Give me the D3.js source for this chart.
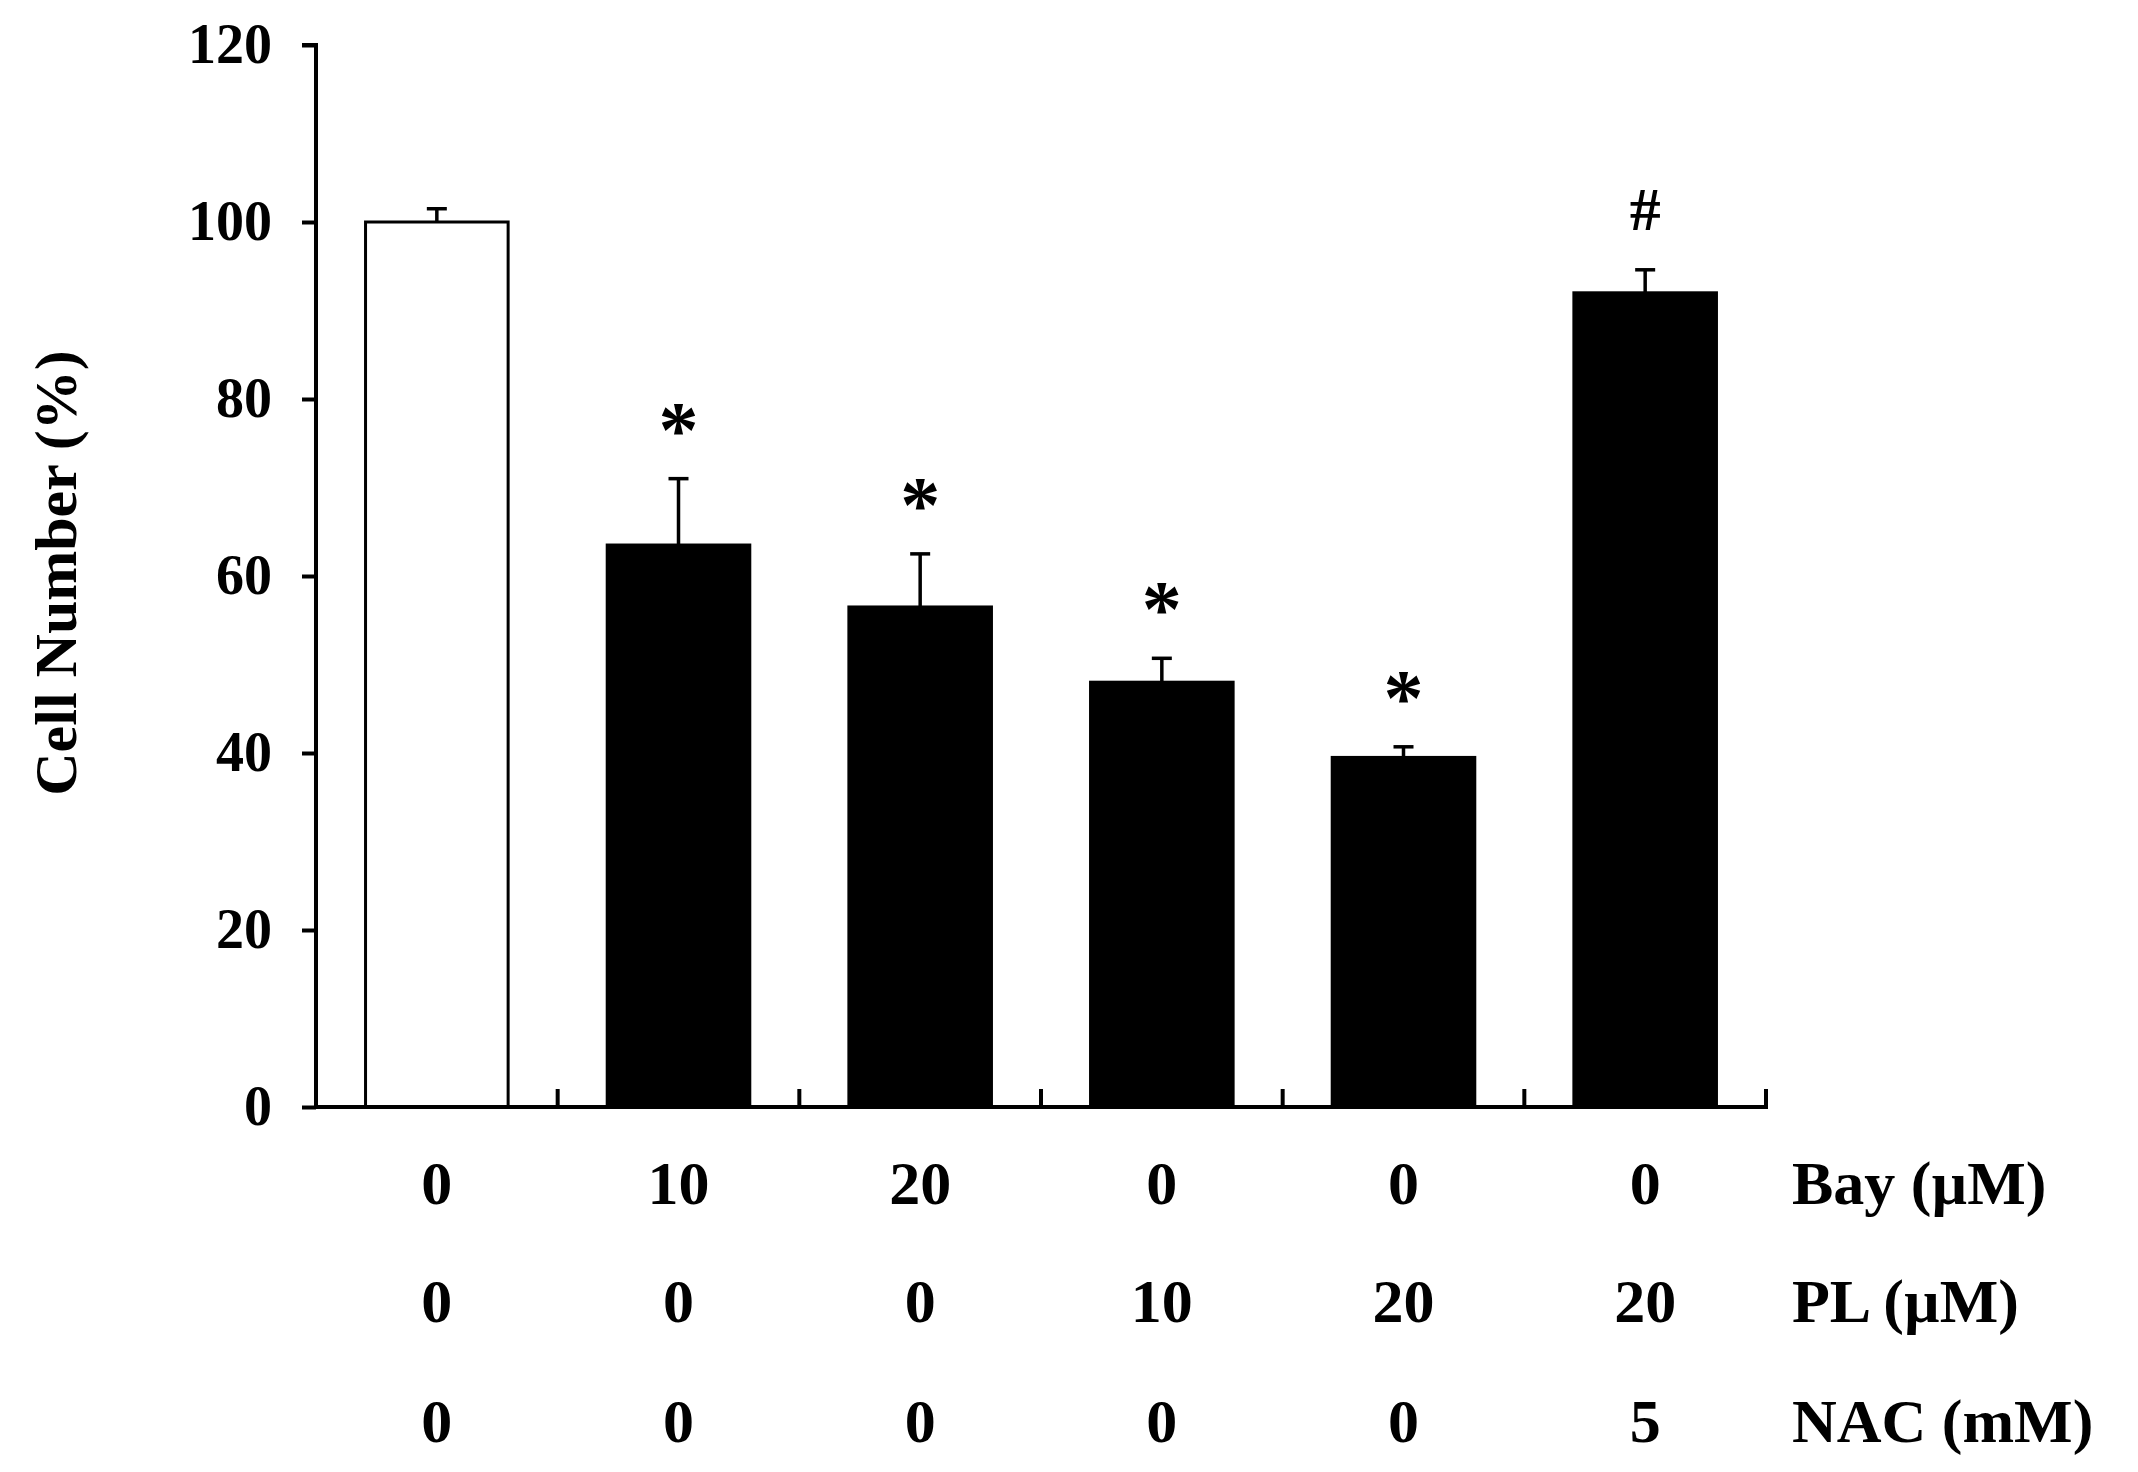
<!DOCTYPE html>
<html><head><meta charset="utf-8">
<script src="https://cdn.jsdelivr.net/npm/d3@7"></script>
<style>body{margin:0;background:#fff}</style></head>
<body><svg id="c" width="2138" height="1472"></svg>
<script>
const groups = ["g1","g2","g3","g4","g5","g6"];
const values = [100, 63.5, 56.5, 48, 39.5, 92];
const errors = [1.5, 7.5, 6, 2.7, 1.2, 2.6];
const fills = ["#fff","#000","#000","#000","#000","#000"];
const marks = ["", "*", "*", "*", "*", "#"];
const yTicks = [0,20,40,60,80,100,120];
const rowLabels = ["Bay (\u00b5M)", "PL (\u00b5M)", "NAC (mM)"];
const bayRow = ["0","10","20","0","0","0"];
const plRow = ["0","0","0","10","20","20"];
const nacRow = ["0","0","0","0","0","5"];

const svg = d3.select("#c");
const font = "'Liberation Serif', 'Times New Roman', serif";
const x = d3.scaleBand().domain(groups).range([316,1766]).paddingInner(0.41).paddingOuter(0.205);
const y = d3.scaleLinear().domain([0,120]).range([1107,45]);

// bars
svg.selectAll("rect.bar").data(values).enter().append("rect")
  .attr("x",(d,i)=>x(groups[i])).attr("width",x.bandwidth())
  .attr("y",d=>y(d)).attr("height",d=>y(0)-y(d))
  .attr("fill",(d,i)=>fills[i]).attr("stroke","#000").attr("stroke-width",3);
// error bars
const cx = i => x(groups[i]) + x.bandwidth()/2;
values.forEach((v,i)=>{
  svg.append("line").attr("x1",cx(i)).attr("x2",cx(i)).attr("y1",y(v)).attr("y2",y(v+errors[i])).attr("stroke","#000").attr("stroke-width",3.5);
  svg.append("line").attr("x1",cx(i)-10).attr("x2",cx(i)+10).attr("y1",y(v+errors[i])).attr("y2",y(v+errors[i])).attr("stroke","#000").attr("stroke-width",3.5);
  if(marks[i]) svg.append("text").attr("x",cx(i)).attr("y",y(v+errors[i]) - (marks[i]==="*"?22:40))
    .attr("text-anchor","middle").attr("font-family",font).attr("font-weight","bold")
    .attr("font-size",marks[i]==="*"?80:62).text(marks[i]);
});

// y axis
const ya = svg.append("g").attr("transform","translate(316,0)")
  .call(d3.axisLeft(y).tickValues(yTicks).tickSize(14).tickPadding(30).tickFormat(d3.format("d")));
ya.select(".domain").attr("stroke-width",4).attr("d","M-14,"+y(120)+"H0V"+y(0));
ya.selectAll(".tick line").attr("stroke-width",4);
ya.selectAll("text").attr("font-family",font).attr("font-weight","bold").attr("font-size",56).attr("fill","#000");

// x axis
const xa = svg.append("g").attr("transform","translate(0,1107)");
xa.append("line").attr("x1",316).attr("x2",1766).attr("y1",0).attr("y2",0).attr("stroke","#000").attr("stroke-width",4);
groups.forEach((g,i)=>{
  const tx = x(g)+x.bandwidth()/2 + x.step()/2;
  xa.append("line").attr("x1",tx).attr("x2",tx).attr("y1",2).attr("y2",-18).attr("stroke","#000").attr("stroke-width",4);
});

// y label
svg.append("text").attr("transform","translate(76,573) rotate(-90)").attr("text-anchor","middle")
  .attr("font-family",font).attr("font-weight","bold").attr("font-size",60).text("Cell Number (%)");

// table
const rows = [bayRow, plRow, nacRow];
const rowY = [1204, 1322, 1442];
rows.forEach((r,ri)=>{
  r.forEach((t,i)=>svg.append("text").attr("x",cx(i)).attr("y",rowY[ri]).attr("text-anchor","middle")
    .attr("font-family",font).attr("font-weight","bold").attr("font-size",62).text(t));
  svg.append("text").attr("x",1792).attr("y",rowY[ri]).attr("font-family",font).attr("font-weight","bold")
    .attr("font-size",62).text(rowLabels[ri]);
});
</script></body></html>
